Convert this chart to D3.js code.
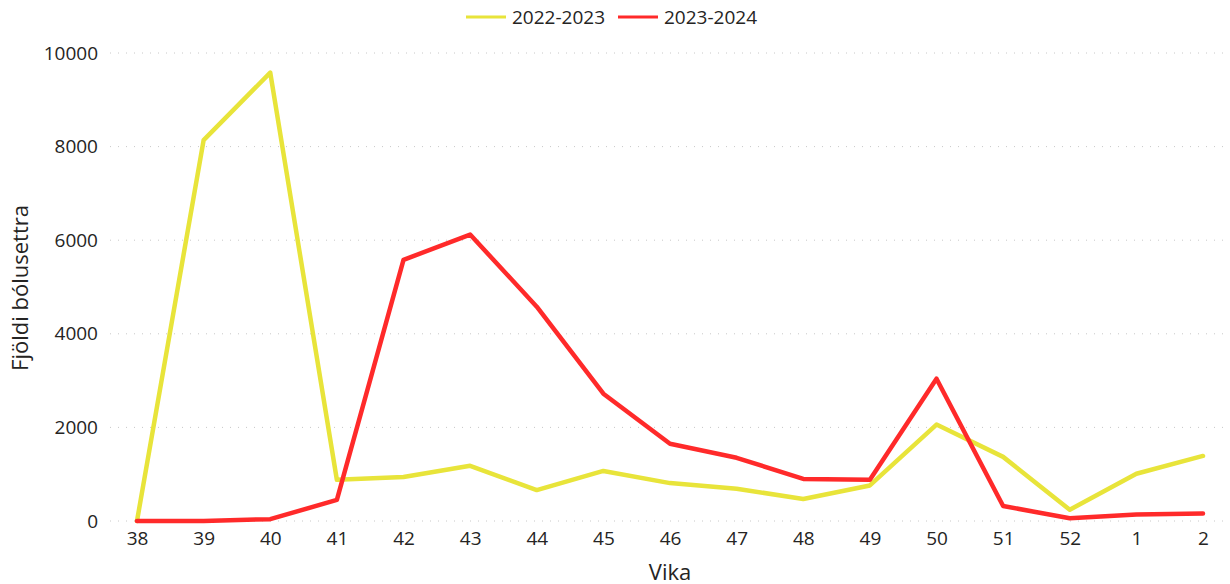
<!DOCTYPE html>
<html>
<head>
<meta charset="utf-8">
<script src="https://cdn.jsdelivr.net/npm/d3@7"></script>
<style>
  body { margin: 0; background: #fff; }
  text { font-family: "Segoe UI", "Open Sans", "Noto Sans", sans-serif; fill: #252423; }
</style>
</head>
<body>
<div id="chart"></div>
<script>
// Data
const weeks = ["38", "39", "40", "41", "42", "43", "44", "45", "46", "47", "48", "49", "50", "51", "52", "1", "2"];
const season1 = [0, 8140, 9580, 880, 940, 1180, 660, 1070, 810, 690, 470, 760, 2060, 1370, 240, 1010, 1390];
const season2 = [0, 0, 40, 450, 5580, 6120, 4580, 2720, 1650, 1350, 900, 880, 3040, 320, 60, 140, 160];
const seriesNames = ["2022-2023", "2023-2024"];
const seriesColors = ["#E8E43A", "#FF2A2A"];
const yTicks = [0, 2000, 4000, 6000, 8000, 10000];

const W = 1230, H = 584;
const margin = { top: 53, right: 27, bottom: 63, left: 110 };
const width = W - margin.left - margin.right,
      height = H - margin.top - margin.bottom;

const svg = d3.select("#chart")
  .append("svg")
  .attr("width", W)
  .attr("height", H);

const g = svg.append("g")
  .attr("transform", `translate(${margin.left}, ${margin.top})`);

const xScale = d3.scalePoint()
  .domain(weeks)
  .range([27, 1093]);

const yScale = d3.scaleLinear()
  .domain([0, 10000])
  .range([height, 0]);

// gridlines
g.selectAll(".grid")
  .data(yTicks)
  .enter()
  .append("line")
  .attr("x1", 0)
  .attr("x2", width + margin.right)
  .attr("y1", d => yScale(d))
  .attr("y2", d => yScale(d))
  .attr("stroke", "#c8c8c8")
  .attr("stroke-width", 1)
  .attr("stroke-dasharray", "1,7");

// y axis
const yAxis = g.append("g")
  .call(d3.axisLeft(yScale).tickValues(yTicks).tickFormat(d3.format("d")).tickSize(0).tickPadding(12));
yAxis.select(".domain").remove();
yAxis.selectAll("text")
  .style("font-size", "19px")
  .attr("fill", "#252423");

// x axis
const xAxis = g.append("g")
  .attr("transform", `translate(0, ${height})`)
  .call(d3.axisBottom(xScale).tickSize(0).tickPadding(11));
xAxis.select(".domain").remove();
xAxis.selectAll("text")
  .style("font-size", "19px")
  .attr("fill", "#252423");

// axis titles
svg.append("text")
  .attr("x", 670)
  .attr("y", 580)
  .style("text-anchor", "middle")
  .style("font-size", "22px")
  .text("Vika");

svg.append("text")
  .attr("transform", "rotate(-90)")
  .attr("x", -288)
  .attr("y", 28)
  .style("text-anchor", "middle")
  .style("font-size", "22px")
  .text("Fjöldi bólusettra");

// lines
const line = d3.line()
  .x((d, i) => xScale(weeks[i]))
  .y(d => yScale(d));

[season1, season2].forEach((vals, k) => {
  g.append("path")
    .datum(vals)
    .attr("fill", "none")
    .attr("stroke", seriesColors[k])
    .attr("stroke-width", 4.5)
    .attr("stroke-linejoin", "round")
    .attr("stroke-linecap", "round")
    .attr("d", line);
});

// legend
const legend = svg.append("g")
  .attr("transform", "translate(466, 17)");
const legendX = [0, 152];
seriesNames.forEach((name, i) => {
  legend.append("line")
    .attr("x1", legendX[i])
    .attr("x2", legendX[i] + 40)
    .attr("y1", 0)
    .attr("y2", 0)
    .attr("stroke", seriesColors[i])
    .attr("stroke-width", 3);
  legend.append("text")
    .attr("x", legendX[i] + 46)
    .attr("y", 0)
    .attr("dy", "0.35em")
    .style("font-size", "19px")
    .text(name);
});
</script>
</body>
</html>
